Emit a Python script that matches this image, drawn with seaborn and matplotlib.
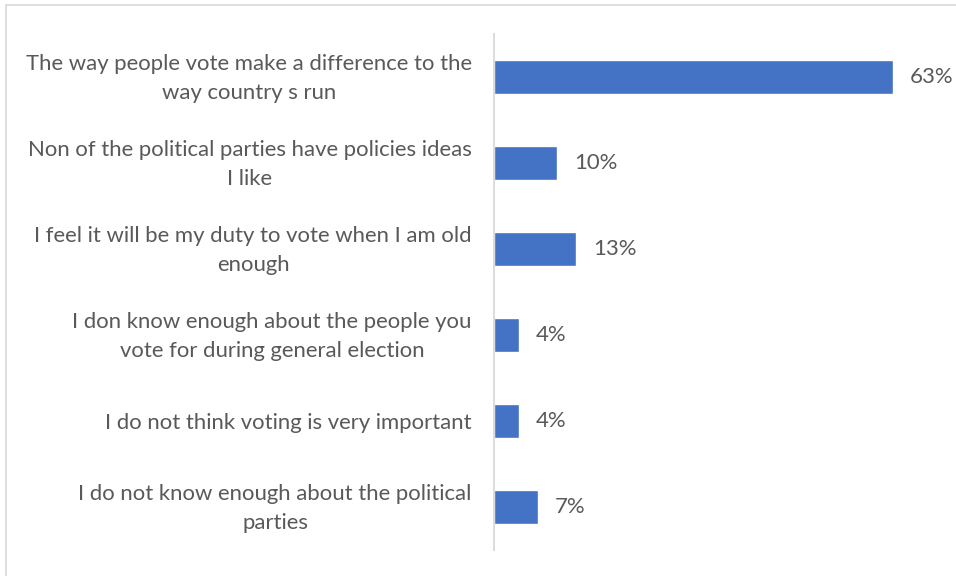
import matplotlib
matplotlib.use("Agg")
import matplotlib.pyplot as plt
import matplotlib.transforms as mtransforms
import seaborn as sns
import pandas as pd
from matplotlib.patches import Rectangle

categories = [
    "The way people vote make a difference to the\nway country s run",
    "Non of the political parties have policies ideas\nI like",
    "I feel it will be my duty to vote when I am old\nenough",
    "I don know enough about the people you\nvote for during general election",
    "I do not think voting is very important",
    "I do not know enough about the political\nparties",
]
values = [0.63, 0.10, 0.13, 0.04, 0.04, 0.07]
value_labels = ["63%", "10%", "13%", "4%", "4%", "7%"]

df = pd.DataFrame({"category": categories, "value": values})

sns.set_theme(style="white")
plt.rcParams["font.family"] = ["Lato", "DejaVu Sans"]

W, H = 956, 576
fig = plt.figure(figsize=(W / 100, H / 100), dpi=100)
ax = fig.add_axes([494 / W, 1 - 550 / H, (937 - 494) / W, (550 - 34) / H])

sns.barplot(data=df, x="value", y="category", orient="h", color="#4472C4",
            saturation=1, width=0.4, ax=ax)

ax.set_xlim(0, 0.70)
ax.set_ylim(5.5, -0.5)
ax.set_xlabel("")
ax.set_ylabel("")
ax.set_xticks([])
for s in ["top", "right", "bottom"]:
    ax.spines[s].set_visible(False)
ax.spines["left"].set_color("#D9D9D9")
ax.spines["left"].set_linewidth(1.3)

ax.tick_params(axis="y", length=0, pad=16, labelsize=15.9, labelcolor="#595959")
shift = mtransforms.ScaledTranslation(0, 5 / 100, fig.dpi_scale_trans)
for lbl in ax.get_yticklabels():
    lbl.set_multialignment("center")
    lbl.set_linespacing(1.55)
    if "\n" in lbl.get_text():
        lbl.set_transform(lbl.get_transform() + shift)

ax.bar_label(ax.containers[0], labels=value_labels, padding=12,
             fontsize=15.9, color="#595959")

fig.patches.append(Rectangle((6 / W, -0.1), 1.2, 1 - 5 / H + 0.1,
                             transform=fig.transFigure, fill=False,
                             edgecolor="#D9D9D9", linewidth=1.2))

fig.savefig("out.png", dpi=100, facecolor="white")
